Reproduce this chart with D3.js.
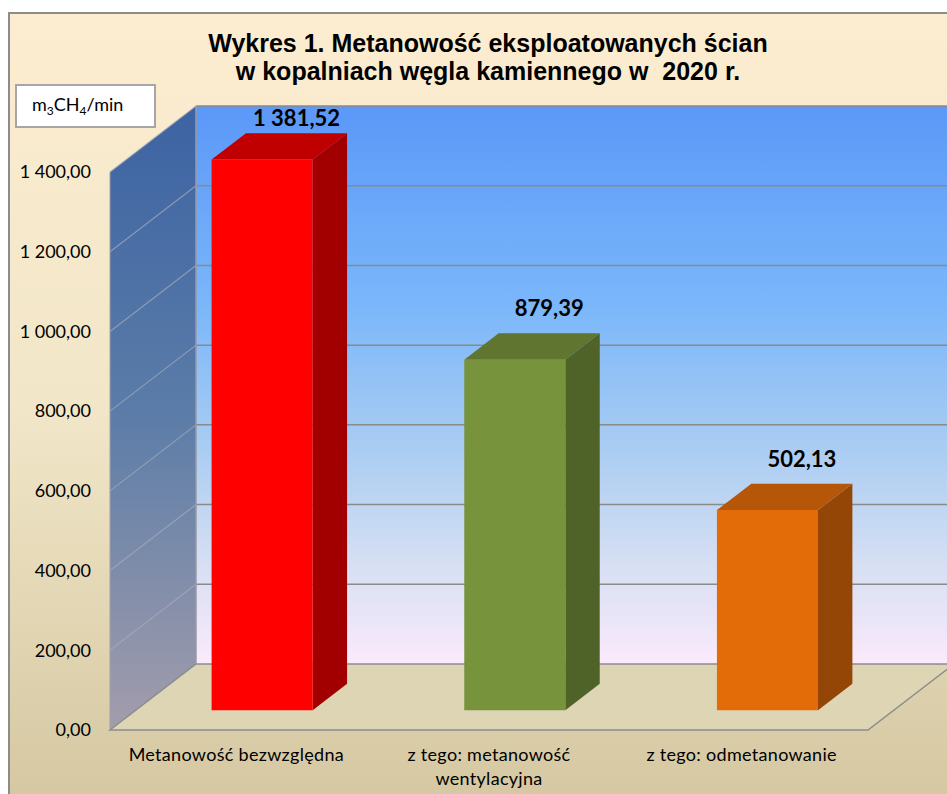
<!DOCTYPE html>
<html>
<head>
<meta charset="utf-8">
<script src="https://cdn.jsdelivr.net/npm/d3@7"></script>
<style>
body { margin: 0; background: #fff; }
text { font-family: Lato, "Noto Sans", sans-serif; fill: #000; white-space: pre; }
</style>
</head>
<body>
<svg width="947" height="794"></svg>
<script>
// dane z wykresu
var categories = ["Metanowość bezwzględna", "z tego: metanowość wentylacyjna", "z tego: odmetanowanie"];
var categoryLines = [["Metanowość bezwzględna"], ["z tego: metanowość", "wentylacyjna"], ["z tego: odmetanowanie"]];
var values = [1381.52, 879.39, 502.13];
var tickValues = [0, 200, 400, 600, 800, 1000, 1200, 1400];
var barColors = [
  { front: "#ff0000", top: "#c00000", side: "#a20000" },
  { front: "#77933c", top: "#5f7530", side: "#4f6228" },
  { front: "#e36c09", top: "#b65608", side: "#944606" }
];
var titleLines = ["Wykres 1. Metanowość eksploatowanych ścian", "w kopalniach węgla kamiennego w  2020 r."];

var svg = d3.select("svg"),
    width = +svg.attr("width"),
    height = +svg.attr("height");

var pl = d3.formatLocale({ decimal: ",", thousands: " ", grouping: [3], currency: ["", " zł"] });
var fmt = pl.format(",.2f");

// geometria 3D
var x0 = 110, x1 = 868, depthX = 86, depthY = -66;
var x = d3.scaleBand().domain(categories).range([x0, x1]).paddingInner(0.6).paddingOuter(0.3);
var y = d3.scaleLinear().domain([0, 1400]).range([730, 172]);
var barD0 = 0.3, barD1 = 0.7;

function proj(px, v, d) {
  return [px + d * depthX, y(v) + d * depthY];
}
function poly(pts) {
  return pts.map(function(p) { return p.join(","); }).join(" ");
}

var defs = svg.append("defs");
function grad(id, stops) {
  var g = defs.append("linearGradient").attr("id", id)
    .attr("x1", 0).attr("y1", 0).attr("x2", 0).attr("y2", 1);
  stops.forEach(function(s) {
    g.append("stop").attr("offset", s[0]).attr("stop-color", s[1]);
  });
}
grad("bg", [[0, "#fdedd0"], [0.5, "#f1e6c8"], [1, "#d4c7a1"]]);
grad("backwall", [[0, "#5b98f8"], [0.35, "#79b6fa"], [0.62, "#abcdf2"], [0.82, "#d6dff3"], [1, "#fbeafc"]]);
grad("sidewall", [[0, "#3c63a3"], [0.5, "#5c7da8"], [1, "#a39dac"]]);

// tło wykresu
svg.append("rect").attr("x", 9).attr("y", 13).attr("width", width).attr("height", height)
  .attr("fill", "url(#bg)").attr("stroke", "#8c8c8c").attr("stroke-width", 2);

// tytuł
svg.append("g").selectAll("text").data(titleLines).enter().append("text")
  .attr("x", 488).attr("y", function(d, i) { return 52 + i * 28; })
  .attr("text-anchor", "middle")
  .style("font-family", "'Liberation Sans', Arial, sans-serif")
  .style("font-weight", "bold").style("font-size", "25px")
  .text(function(d) { return d; });

// jednostka
svg.append("rect").attr("x", 16).attr("y", 85).attr("width", 139).attr("height", 42)
  .attr("fill", "#fff").attr("stroke", "#a6a6a6").attr("stroke-width", 2);
var unit = svg.append("text").attr("x", 32).attr("y", 111).style("font-size", "18px");
unit.append("tspan").text("m");
unit.append("tspan").attr("dy", 4).style("font-size", "12px").text("3");
unit.append("tspan").attr("dy", -4).text("CH");
unit.append("tspan").attr("dy", 4).style("font-size", "12px").text("4");
unit.append("tspan").attr("dy", -4).text("/min");

// ściany
var vmax = y.domain()[1];
svg.append("polygon")
  .attr("points", poly([proj(x0, vmax, 1), proj(x1, vmax, 1), proj(x1, 0, 1), proj(x0, 0, 1)]))
  .attr("fill", "url(#backwall)");
svg.append("polygon")
  .attr("points", poly([proj(x0, vmax, 0), proj(x0, vmax, 1), proj(x0, 0, 1), proj(x0, 0, 0)]))
  .attr("fill", "url(#sidewall)");
svg.append("polygon")
  .attr("points", poly([proj(x0, 0, 0), proj(x0, 0, 1), proj(x1, 0, 1), proj(x1, 0, 0)]))
  .attr("fill", "#ded5b5").attr("stroke", "#8c8c8c").attr("stroke-width", 1.5);

// linie siatki
svg.append("g").selectAll("line").data(tickValues.slice(1)).enter().append("line")
  .attr("x1", function(d) { return proj(x0, d, 1)[0]; })
  .attr("y1", function(d) { return proj(x0, d, 1)[1]; })
  .attr("x2", function(d) { return proj(x1, d, 1)[0]; })
  .attr("y2", function(d) { return proj(x1, d, 1)[1]; })
  .attr("stroke", "#8a8a8a").attr("stroke-width", 1.5);
svg.append("g").selectAll("line").data(tickValues.slice(1)).enter().append("line")
  .attr("x1", function(d) { return proj(x0, d, 0)[0]; })
  .attr("y1", function(d) { return proj(x0, d, 0)[1]; })
  .attr("x2", function(d) { return proj(x0, d, 1)[0]; })
  .attr("y2", function(d) { return proj(x0, d, 1)[1]; })
  .attr("stroke", "#a7abb8").attr("stroke-opacity", 0.7).attr("stroke-width", 1.2);
svg.append("line")
  .attr("x1", proj(x0, vmax, 1)[0]).attr("y1", proj(x0, vmax, 1)[1])
  .attr("x2", proj(x0, 0, 1)[0]).attr("y2", proj(x0, 0, 1)[1])
  .attr("stroke", "#9a9aa4").attr("stroke-width", 1.5);
svg.append("line")
  .attr("x1", x0).attr("y1", y(vmax)).attr("x2", x0).attr("y2", y(0))
  .attr("stroke", "#a0a0a8").attr("stroke-width", 1);

// oś Y
svg.append("g").selectAll("text").data(tickValues).enter().append("text")
  .attr("x", 91).attr("y", function(d) { return y(d); })
  .attr("dy", "0.35em").attr("text-anchor", "end")
  .style("font-size", "18px")
  .text(function(d) { return fmt(d); });

// słupki
var bars = svg.append("g").selectAll("g").data(values).enter().append("g");
function bx(i) { return x(categories[i]); }
bars.append("polygon")
  .attr("points", function(d, i) {
    var r = bx(i) + x.bandwidth();
    return poly([proj(r, 0, barD0), proj(r, 0, barD1), proj(r, d, barD1), proj(r, d, barD0)]);
  })
  .attr("fill", function(d, i) { return barColors[i].side; });
bars.append("polygon")
  .attr("points", function(d, i) {
    var l = bx(i), r = bx(i) + x.bandwidth();
    return poly([proj(l, d, barD0), proj(r, d, barD0), proj(r, d, barD1), proj(l, d, barD1)]);
  })
  .attr("fill", function(d, i) { return barColors[i].top; });
bars.append("polygon")
  .attr("points", function(d, i) {
    var l = bx(i), r = bx(i) + x.bandwidth();
    return poly([proj(l, 0, barD0), proj(r, 0, barD0), proj(r, d, barD0), proj(l, d, barD0)]);
  })
  .attr("fill", function(d, i) { return barColors[i].front; });

// etykiety wartości
bars.append("text")
  .attr("x", function(d, i) { return proj(bx(i) + x.bandwidth() / 2, d, barD1)[0]; })
  .attr("y", function(d, i) { return Math.max(proj(0, d, barD1)[1] - 17, proj(0, vmax, 1)[1] + 20); })
  .attr("text-anchor", "middle")
  .style("font-weight", "bold").style("font-size", "22px")
  .text(function(d) { return fmt(d); });

// kategorie
var cat = svg.append("g").selectAll("text").data(categories).enter().append("text")
  .attr("x", function(d) { return x(d) + x.bandwidth() / 2; })
  .attr("y", 761)
  .attr("text-anchor", "middle")
  .style("font-size", "18px").style("letter-spacing", "0.3px");
cat.selectAll("tspan").data(function(d, i) { return categoryLines[i]; }).enter().append("tspan")
  .attr("x", function() { return d3.select(this.parentNode).attr("x"); })
  .attr("dy", function(d, i) { return i ? 24 : 0; })
  .text(function(d) { return d; });
</script>
</body>
</html>
